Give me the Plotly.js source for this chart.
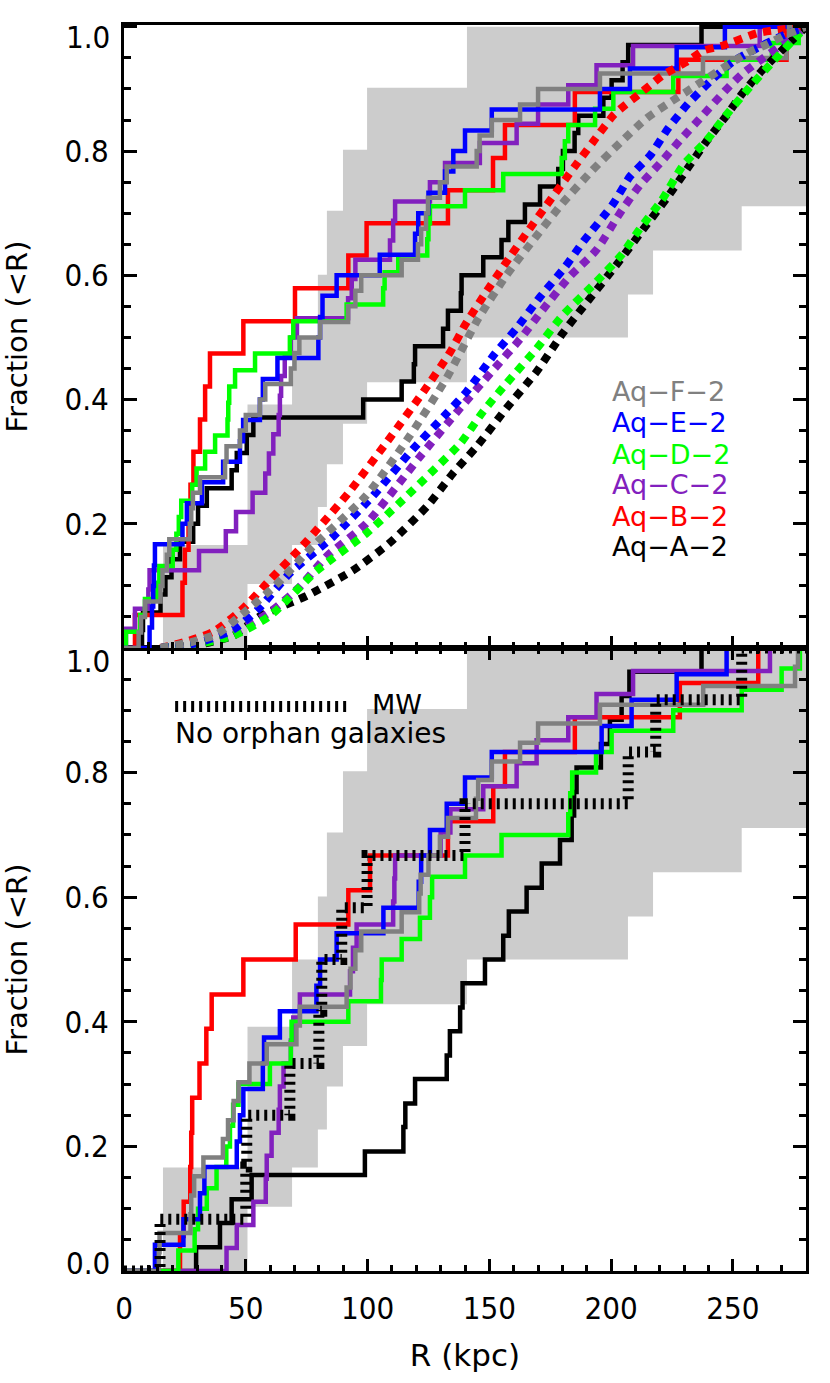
<!DOCTYPE html>
<html>
<head>
<meta charset="utf-8">
<script src="https://cdn.plot.ly/plotly-3.0.1.min.js"></script>
<style>
  html, body { margin: 0; padding: 0; background: #fff; }
  #chart { width: 830px; height: 1383px; }
</style>
</head>
<body>
<div id="chart"></div>
<script>
// halo names and colours (A..F)
const haloNames = ["Aq\u2212A\u22122", "Aq\u2212B\u22122", "Aq\u2212C\u22122", "Aq\u2212D\u22122", "Aq\u2212E\u22122", "Aq\u2212F\u22122"];
const haloColors = ["#000000", "#ff0000", "rgb(130,32,190)", "#00ff00", "#0000ff", "#808080"];

// grey band: lower and upper step edges (R in kpc, fraction)
const bandLowR = [50.7, 69, 79.6, 83.3, 89.9, 99.8, 140.8, 206.9, 217.2, 253.6];
const bandLowF = [0.103, 0.166, 0.227, 0.296, 0.361, 0.428, 0.5, 0.569, 0.64, 0.711];
const bandUpR = [16, 50.7, 69, 79.6, 83.3, 89.9, 99.8, 140.8];
const bandUpF = [0.166, 0.392, 0.5, 0.601, 0.704, 0.802, 0.902, 1.0];

// top panel: all satellites, step positions and fractions
const topAR = [7.4,7.8,15,17,19.5,23,28.4,30.4,34,44.2,46.3,50.4,53.1,98.2,114,119,119.5,131,133,138.3,138.6,147.5,155,157.8,164.6,170.8,178.3,180.2,185,186.5,196.8,200.2,204.7,207,237.1];
const topAF = [.029,.057,.086,.114,.143,.171,.2,.229,.257,.286,.314,.343,.371,.4,.429,.457,.486,.514,.543,.571,.6,.629,.657,.686,.714,.743,.771,.8,.829,.857,.886,.914,.943,.971,1];
const topBR = [4.5,24,25,26.5,27.3,28.5,31.2,33.3,35.3,49,70.2,92.1,99.6,133,151.5,156.4,185.1,227.6,272];
const topBF = [.053,.105,.158,.211,.263,.316,.368,.421,.474,.526,.579,.632,.684,.737,.789,.842,.895,.947,1];
const topCR = [0.8,4.5,10,10.5,30.8,41.8,46,52.8,58,59.5,61.3,63.5,64,64.5,66,68.5,71,92,93.5,95,109.2,110.5,111.3,125.6,131.8,146.1,161.2,170,182.4,194,209,261];
const topCF = [.031,.063,.094,.125,.156,.188,.219,.25,.281,.313,.344,.375,.406,.438,.469,.5,.531,.563,.594,.625,.656,.688,.719,.75,.781,.813,.844,.875,.906,.938,.969,1];
const topDR = [0.8,6.6,8.6,13.5,14.5,20,21.5,22.5,23.5,28,29.8,33.3,37.4,42.5,42.8,43.2,45.6,53.8,68.1,69.5,91.4,106.4,107,112.6,124.5,125,125.6,140,155.7,179.7,181,182.4,193.4,200.9,225.5,247.4,266,277];
const topDF = [.026,.053,.079,.105,.132,.158,.184,.211,.237,.263,.289,.316,.342,.368,.395,.421,.447,.474,.5,.526,.553,.579,.605,.632,.658,.684,.711,.737,.763,.789,.816,.842,.868,.895,.921,.947,.974,1];
const topER = [10.5,11.5,12,12.3,12.7,24,25.8,32,40.7,47.6,48.9,55.8,57,63,79.8,80.5,81.5,87.3,105,119.5,120.8,125,131.8,135.2,140,151,195.4,207.7,226.9,246.7];
const topEF = [.033,.067,.1,.133,.167,.2,.233,.267,.3,.333,.367,.4,.433,.467,.5,.533,.567,.6,.633,.667,.7,.733,.767,.8,.833,.867,.9,.933,.967,1];
const topFR = [6,7,8.6,15,15.8,17.6,18.6,27,27.6,28.3,31.2,41.5,42.1,47.6,50,55.8,58,68.5,70,72,80.5,92,95,97.4,114,120.7,122,124,124.8,129.7,132.5,144.8,146,151,162.6,170,195.4,237.7,272,273];
const topFF = [.025,.05,.075,.1,.125,.15,.175,.2,.225,.25,.275,.3,.325,.35,.375,.4,.425,.45,.475,.5,.525,.55,.575,.6,.625,.65,.675,.7,.725,.75,.775,.8,.825,.85,.875,.9,.925,.95,.975,1];

// top panel: smooth model profiles (dotted)
const modARx = [15,30,45,55.8,75,94,109,124.4,135,144.9,157,169.4,180,188.5,203.6,211.8,223,231,239,247.5,253.7,262,270,280];
const modAy  = [0,.005,.02,.051,.084,.125,.169,.228,.281,.325,.386,.445,.506,.549,.624,.667,.725,.77,.815,.858,.892,.93,.962,1];
const modBRx = [15,27,37,49,60,72,82,92,108,123,134,140,147.5,158.5,166,173.5,185,192.6,201,206,211,216,221.5,231.5,238,246,260,268,280];
const modBy  = [0,.012,.027,.064,.11,.159,.203,.249,.332,.413,.477,.52,.566,.63,.672,.713,.775,.815,.858,.875,.89,.906,.923,.945,.962,.97,.99,.995,1];
const modCRx = [15,30,45,60,72,83.3,99.6,121.5,138,151,163.4,172,183,194,203.6,211.8,220,228.2,237.7,247.5,253.7,264,272,280];
const modCy  = [0,.007,.024,.058,.098,.148,.201,.308,.386,.445,.501,.545,.598,.641,.7,.745,.78,.817,.858,.9,.924,.954,.976,1];
const modDRx = [15,30,45,60,79,99.6,113,127,138,147.5,157,169.4,180,194,204.3,211.8,220.8,229.5,239.2,246,258,266.4,274.6,280];
const modDy  = [0,.006,.02,.052,.124,.185,.233,.286,.329,.381,.426,.482,.535,.59,.633,.675,.721,.777,.817,.852,.908,.944,.978,1];
const modERx = [15,30,45,55,68,86,102,118.8,132.5,140.7,152.3,161,170.8,181,188.5,200.8,207.7,216,223.3,231.5,240.6,250,261,270,280];
const modEy  = [0,.008,.03,.062,.12,.18,.244,.321,.378,.413,.474,.514,.565,.613,.654,.715,.759,.793,.836,.876,.912,.944,.968,.985,1];
const modFRx = [15,28,38,49,62,77.6,99.6,117.4,132.5,145.4,157,168.7,180,192,203.6,214.6,224,235,246,257,264,272,280];
const modFy  = [0,.01,.022,.056,.1,.164,.246,.342,.435,.53,.6,.66,.716,.768,.813,.853,.878,.906,.934,.96,.972,.988,1];

// bottom panel: no orphan galaxies
const botAR = [29.6,39.4,44.2,52.4,98.9,114.7,115.5,119.5,132.5,133.8,138,139,148.2,155.7,158,165.3,171.5,179,183.8,184.8,185.8,195.8,199.5,204.3,207.5,237.1];
const botAF = [.038,.077,.115,.154,.192,.231,.269,.308,.346,.385,.423,.462,.5,.538,.577,.615,.654,.692,.731,.769,.808,.846,.885,.923,.962,1];
const botBR = [23,24.5,27.2,27.6,28,31,33.8,36,49,70.5,92.1,101,133,151.6,156.4,185.1,228.2,260.4];
const botBF = [.056,.111,.167,.222,.278,.333,.389,.444,.5,.556,.611,.667,.722,.778,.833,.889,.944,1];
const botCR = [42.1,46.3,53.1,58.2,58.6,60.6,63.5,64,65.5,68.5,69.5,72.2,92.8,94,95.5,110.5,111,111.3,130,134,147.5,161.2,169.4,182.4,194,209,265.2];
const botCF = [.037,.074,.111,.148,.185,.222,.259,.296,.333,.37,.407,.444,.481,.519,.556,.593,.63,.667,.704,.741,.778,.815,.852,.889,.926,.963,1];
const botDR = [22.3,29,30.4,34,38,42,43.5,44.8,47,59.9,68.5,68.8,92.1,105.5,105.8,114,121.5,125.6,126.5,140,155,182.4,183.2,184,193.8,200.2,225.5,253.6,270,277.5];
const botDF = [.033,.067,.1,.133,.167,.2,.233,.267,.3,.333,.367,.4,.433,.467,.5,.533,.567,.6,.633,.667,.7,.733,.767,.8,.833,.867,.9,.933,.967,1];
const botER = [12.7,24.4,31.2,33,46.3,47.6,49,57,57.5,64,79,80.5,87.3,106.5,121,122,125.6,132.5,140,151,196.1,208.4,226.9,247.4];
const botEF = [.042,.083,.125,.167,.208,.25,.292,.333,.375,.417,.458,.5,.542,.583,.625,.667,.708,.75,.792,.833,.875,.917,.958,1];
const botFR = [14.3,14.6,27.3,27.6,28.8,32.6,40.6,42.7,45,47,51.5,58.6,70.8,72.2,91.4,93,95,97.4,114,121.2,121.8,125,129.7,133,144.5,145.4,151,162.6,170,195.4,237.8,275.5,276.7];
const botFF = [.03,.061,.091,.121,.152,.182,.212,.242,.273,.303,.333,.364,.394,.424,.455,.485,.515,.545,.576,.606,.636,.667,.697,.727,.758,.788,.818,.848,.879,.909,.939,.97,1];
// Milky Way satellites
const mwR = [14.8,50,50.4,68.1,80,81.2,89.4,99.8,140,207,218.3,253.6];
const mwF = [.083,.167,.25,.333,.417,.5,.583,.667,.75,.833,.917,1];

const xMax = 280;
function stepLine(r, f, xa, ya, color, extra) {
  return Object.assign({
    type: 'scatter', mode: 'lines', xaxis: xa, yaxis: ya,
    x: [0].concat(r, [xMax]), y: [0].concat(f, [f[f.length - 1]]),
    line: {shape: 'hv', color: color, width: 4.5}, hoverinfo: 'skip'
  }, extra || {});
}
function band(xa, ya) {
  return [
    stepLine(bandLowR, bandLowF, xa, ya, 'rgba(0,0,0,0)', {line: {shape: 'hv', width: 0}}),
    stepLine(bandUpR, bandUpF, xa, ya, 'rgba(0,0,0,0)', {line: {shape: 'hv', width: 0}, fill: 'tonexty', fillcolor: '#cccccc'})
  ];
}

const topSteps = [[topAR, topAF], [topBR, topBF], [topCR, topCF], [topDR, topDF], [topER, topEF], [topFR, topFF]];
const botSteps = [[botAR, botAF], [botBR, botBF], [botCR, botCF], [botDR, botDF], [botER, botEF], [botFR, botFF]];
const models = [[modARx, modAy], [modBRx, modBy], [modCRx, modCy], [modDRx, modDy], [modERx, modEy], [modFRx, modFy]];

let traces = [];
traces = traces.concat(band('x2', 'y2'));
topSteps.forEach((s, i) => traces.push(stepLine(s[0], s[1], 'x2', 'y2', haloColors[i])));
models.forEach((m, i) => traces.push({
  type: 'scatter', mode: 'lines', xaxis: 'x2', yaxis: 'y2', x: m[0], y: m[1],
  line: {shape: 'spline', smoothing: 0.6, color: haloColors[i], width: 8, dash: '8px,7px'}, hoverinfo: 'skip'
}));
traces = traces.concat(band('x', 'y'));
botSteps.forEach((s, i) => traces.push(stepLine(s[0], s[1], 'x', 'y', haloColors[i])));
traces.push(stepLine(mwR, mwF, 'x', 'y', '#000', {line: {shape: 'hv', color: '#000', width: 11, dash: '3px,5px'}}));

const numFont = {family: 'DejaVu Sans Condensed, DejaVu Sans, sans-serif', size: 31, color: '#000'};
const txtFont = {family: 'DejaVu Sans, sans-serif', size: 29, color: '#000'};

function xAxis(extra) {
  return Object.assign({
    range: [0, xMax], domain: [0, 1], tickmode: 'array', tickvals: [0, 50, 100, 150, 200, 250],
    ticks: 'inside', ticklen: 12, tickwidth: 3, tickcolor: '#000',
    showline: true, linewidth: 3, linecolor: '#000', showgrid: false, zeroline: false,
    minor: {dtick: 10, tick0: 0, ticks: 'inside', ticklen: 6, tickwidth: 3, tickcolor: '#000', showgrid: false},
    tickfont: numFont, ticklabelstandoff: 8
  }, extra);
}
function yAxis(extra) {
  return Object.assign({
    tickmode: 'array', tickvals: [0, 0.2, 0.4, 0.6, 0.8, 1.0], ticktext: ['', '0.2', '0.4', '0.6', '0.8', ''],
    ticks: 'inside', ticklen: 13, tickwidth: 3, tickcolor: '#000',
    showline: true, linewidth: 3, linecolor: '#000', mirror: 'ticks', showgrid: false, zeroline: false,
    minor: {dtick: 0.05, tick0: 0, ticks: 'inside', ticklen: 7, tickwidth: 3, tickcolor: '#000', showgrid: false},
    tickfont: numFont, ticklabelstandoff: 6,
    title: {text: 'Fraction (<R)', font: txtFont, standoff: 29}
  }, extra);
}

const layout = {
  width: 830, height: 1383,
  margin: {l: 124, r: 24, t: 25, b: 112},
  paper_bgcolor: '#fff', plot_bgcolor: '#fff', showlegend: false,
  xaxis: xAxis({anchor: 'y', mirror: 'ticks', title: {text: 'R (kpc)', font: {family: 'DejaVu Sans, sans-serif', size: 31, color: '#000'}, standoff: 20}}),
  xaxis2: xAxis({anchor: 'y2', matches: 'x', mirror: true, showticklabels: false}),
  yaxis: yAxis({anchor: 'x', domain: [0, 0.5], range: [0, 1]}),
  yaxis2: yAxis({anchor: 'x2', domain: [0.5, 1], range: [0, 1.003]}),
  shapes: [{
    type: 'line', xref: 'paper', yref: 'paper', x0: 0.075, x1: 0.328, y0: 0.453, y1: 0.453,
    line: {color: '#000', width: 11, dash: '3px,5px'}
  }],
  annotations: []
};

// shifted end labels of the y axes
[[0.98997, '1.0'], [0.48957, '1.0'], [0.00602, '0.0']].forEach(a => layout.annotations.push({
  xref: 'paper', yref: 'paper', x: -0.0176, y: a[0], xanchor: 'right', yanchor: 'middle',
  text: a[1], showarrow: false, font: numFont
}));
// halo legend (top panel), listed F..A downwards
const legendY = [0.5811, 0.6059, 0.6316, 0.6549, 0.6806, 0.7055];
haloNames.forEach((n, i) => layout.annotations.push({
  xref: 'paper', yref: 'paper', x: 0.7126, y: legendY[i], xanchor: 'left', yanchor: 'middle',
  text: n, showarrow: false, font: {family: 'DejaVu Sans, sans-serif', size: 27, color: haloColors[i]}
}));
layout.annotations.push({
  xref: 'paper', yref: 'paper', x: 0.3607, y: 0.4543, xanchor: 'left', yanchor: 'middle',
  text: 'MW', showarrow: false, font: {family: 'DejaVu Sans, sans-serif', size: 27, color: '#000'}
});
layout.annotations.push({
  xref: 'paper', yref: 'paper', x: 0.0718, y: 0.431, xanchor: 'left', yanchor: 'middle',
  text: 'No orphan galaxies', showarrow: false, font: {family: 'DejaVu Sans, sans-serif', size: 28, color: '#000'}
});

Plotly.newPlot('chart', traces, layout, {staticPlot: true, displayModeBar: false});
</script>
</body>
</html>
